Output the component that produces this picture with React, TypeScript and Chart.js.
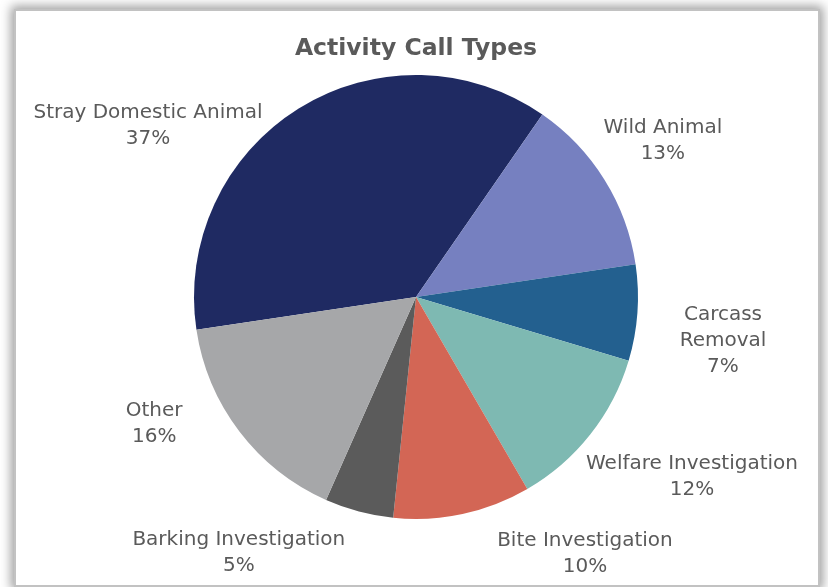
import React, { useEffect, useRef } from "react";
import { Chart, registerables } from "chart.js";

Chart.register(...registerables);

const categories = [
  "Stray Domestic Animal",
  "Wild Animal",
  "Carcass Removal",
  "Welfare Investigation",
  "Bite Investigation",
  "Barking Investigation",
  "Other",
];
const shares = [37, 13, 7, 12, 10, 5, 16];
const sliceColors = ["#1F2A62", "#7680C0", "#23608F", "#7EB9B2", "#D36655", "#5B5B5B", "#A6A7A9"];

// label placement relative to each slice (angle shift in degrees, distance in radii)
const labelAngleShift = [-25.5, -0.5, 4.1, -5.2, -21.2, 19.8, 11.5];
const labelDistance = [1.433, 1.317, 1.397, 1.484, 1.386, 1.402, 1.31];

const FONT = "'DejaVu Sans', sans-serif";
const TEXT = "#5a5a5a";

const outsideLabels = {
  id: "outsideLabels",
  afterDraw(chart: any) {
    const { ctx, width } = chart;
    const meta = chart.getDatasetMeta(0);
    const data = chart.data.datasets[0].data as number[];
    const total = data.reduce((a, b) => a + b, 0);
    ctx.save();
    ctx.font = `20px ${FONT}`;
    ctx.fillStyle = TEXT;
    ctx.textAlign = "center";
    ctx.textBaseline = "middle";
    const lh = 26;
    meta.data.forEach((arc: any, i: number) => {
      const mid = (arc.startAngle + arc.endAngle) / 2 + (labelAngleShift[i] * Math.PI) / 180;
      const cx = arc.x + Math.cos(mid) * arc.outerRadius * labelDistance[i];
      const cy = arc.y + Math.sin(mid) * arc.outerRadius * labelDistance[i];
      const name = chart.data.labels[i] as string;
      const avail = 2 * Math.min(cx, width - cx) - 30;
      let lines: string[] = [];
      if (ctx.measureText(name).width > avail) {
        const words = name.split(" ");
        let cur = "";
        words.forEach((w) => {
          const t = cur ? cur + " " + w : w;
          if (cur && ctx.measureText(t).width > avail) {
            lines.push(cur);
            cur = w;
          } else cur = t;
        });
        if (cur) lines.push(cur);
      } else lines = [name];
      lines.push(Math.round((data[i] / total) * 100) + "%");
      const y0 = cy - ((lines.length - 1) * lh) / 2;
      lines.forEach((l, k) => ctx.fillText(l, cx, y0 + k * lh));
    });
    ctx.restore();
  },
};

export default function App() {
  const ref = useRef<HTMLCanvasElement>(null);
  useEffect(() => {
    if (!ref.current) return;
    const chart = new Chart(ref.current, {
      type: "pie",
      data: {
        labels: categories,
        datasets: [
          {
            data: shares,
            backgroundColor: sliceColors,
            borderWidth: 0,
          },
        ],
      },
      options: {
        animation: false,
        responsive: false,
        devicePixelRatio: 1,
        rotation: -98.5,
        layout: { padding: { left: 150, right: 152, bottom: 66, top: 0 } },
        plugins: {
          legend: { display: false },
          tooltip: { enabled: false },
          title: {
            display: true,
            text: "Activity Call Types",
            color: TEXT,
            font: { family: FONT, size: 23.5, weight: "bold", lineHeight: 1.2 },
            padding: { top: 24, bottom: 11.8 },
          },
        },
      },
      plugins: [outsideLabels],
    });
    return () => chart.destroy();
  }, []);
  return (
    <div style={{ position: "absolute", left: 0, top: 0, width: 828, height: 587, overflow: "hidden", background: "#fff" }}>
      <div
        style={{
          position: "absolute",
          left: 14,
          top: 9,
          width: 802,
          height: 574,
          border: "2px solid #c2c2c2",
          boxShadow: "0 0 10px 3px rgba(0,0,0,0.38)",
          background: "#fff",
        }}
      >
        <canvas ref={ref} width={802} height={574} style={{ display: "block", width: 802, height: 574 }} />
      </div>
    </div>
  );
}
